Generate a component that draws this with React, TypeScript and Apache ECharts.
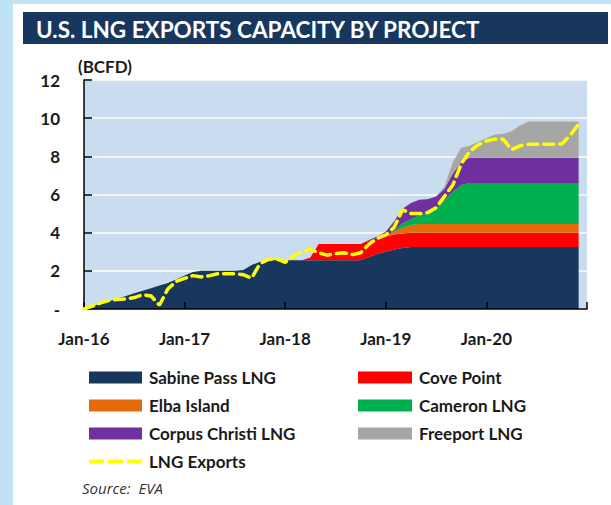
import React, { useEffect, useRef } from "react";
import * as echarts from "echarts";

const yearSuffixes = ["16", "17", "18", "19", "20", "21"];
const monthNames = ["Jan", "Feb", "Mar", "Apr", "May", "Jun", "Jul", "Aug", "Sep", "Oct", "Nov", "Dec"];
const categories: string[] = [];
for (const y of yearSuffixes) for (const m of monthNames) categories.push(`${m}-${y}`);
categories.length = 61; // Jan-16 .. Jan-21

const yTicks = [0, 2, 4, 6, 8, 10, 12];

// Monthly capacity, BCFD (Jan-16 .. Dec-20)
const sabinePass = [
  0, 0.14, 0.27, 0.41, 0.55, 0.68, 0.82, 0.95, 1.09, 1.23,
  1.36, 1.55, 1.75, 1.94, 2.0, 2.0, 2.0, 2.0, 2.0, 2.05,
  2.3, 2.48, 2.55, 2.55, 2.55, 2.55, 2.55, 2.55, 2.55, 2.55,
  2.55, 2.55, 2.55, 2.55, 2.72, 2.88, 3.0, 3.12, 3.2, 3.25,
  3.25, 3.25, 3.25, 3.25, 3.25, 3.25, 3.25, 3.25, 3.25, 3.25,
  3.25, 3.25, 3.25, 3.25, 3.25, 3.25, 3.25, 3.25, 3.25, 3.25,
];
const covePoint = [
  0, 0, 0, 0, 0, 0, 0, 0, 0, 0,
  0, 0, 0, 0, 0, 0, 0, 0, 0, 0,
  0, 0, 0, 0, 0, 0, 0, 0.15, 0.86, 0.86,
  0.86, 0.86, 0.86, 0.86, 0.85, 0.82, 0.8, 0.78, 0.76, 0.75,
  0.75, 0.75, 0.75, 0.75, 0.75, 0.75, 0.75, 0.75, 0.75, 0.75,
  0.75, 0.75, 0.75, 0.75, 0.75, 0.75, 0.75, 0.75, 0.75, 0.75,
];
const elbaIsland = [
  0, 0, 0, 0, 0, 0, 0, 0, 0, 0,
  0, 0, 0, 0, 0, 0, 0, 0, 0, 0,
  0, 0, 0, 0, 0, 0, 0, 0, 0, 0,
  0, 0, 0, 0, 0, 0, 0, 0.15, 0.3, 0.4,
  0.45, 0.45, 0.45, 0.45, 0.45, 0.45, 0.45, 0.45, 0.45, 0.45,
  0.45, 0.45, 0.45, 0.45, 0.45, 0.45, 0.45, 0.45, 0.45, 0.45,
];
const cameron = [
  0, 0, 0, 0, 0, 0, 0, 0, 0, 0,
  0, 0, 0, 0, 0, 0, 0, 0, 0, 0,
  0, 0, 0, 0, 0, 0, 0, 0, 0, 0,
  0, 0, 0, 0, 0, 0, 0, 0.05, 0.24, 0.3,
  0.45, 0.6, 0.8, 1.25, 1.7, 2.05, 2.15, 2.15, 2.15, 2.15,
  2.15, 2.15, 2.15, 2.15, 2.15, 2.15, 2.15, 2.15, 2.15, 2.15,
];
const corpusChristi = [
  0, 0, 0, 0, 0, 0, 0, 0, 0, 0,
  0, 0, 0, 0, 0, 0, 0, 0, 0, 0,
  0, 0, 0, 0, 0, 0, 0, 0, 0, 0,
  0, 0, 0, 0, 0.05, 0.1, 0.25, 0.5, 0.75, 0.85,
  0.82, 0.7, 0.65, 0.6, 0.95, 1.2, 1.33, 1.33, 1.33, 1.33,
  1.33, 1.33, 1.33, 1.33, 1.33, 1.33, 1.33, 1.33, 1.33, 1.33,
];
const freeport = [
  0, 0, 0, 0, 0, 0, 0, 0, 0, 0,
  0, 0, 0, 0, 0, 0, 0, 0, 0, 0,
  0, 0, 0, 0, 0, 0, 0, 0, 0, 0,
  0, 0, 0, 0, 0, 0, 0, 0, 0, 0,
  0, 0, 0, 0.1, 0.6, 0.75, 0.62, 0.82, 1.02, 1.22,
  1.24, 1.39, 1.69, 1.9, 1.9, 1.9, 1.9, 1.9, 1.9, 1.9,
];
const lngExports = [
  0, 0.15, 0.32, 0.45, 0.5, 0.53, 0.6, 0.75, 0.68, 0.2,
  1.05, 1.45, 1.6, 1.75, 1.68, 1.75, 1.85, 1.85, 1.85, 1.8,
  1.62, 2.38, 2.6, 2.62, 2.45, 2.78, 3.0, 3.12, 2.95, 2.82,
  2.9, 2.95, 2.85, 2.95, 3.4, 3.7, 3.88, 4.28, 5.2, 5.0,
  5.0, 5.05, 5.3, 5.9, 6.5, 7.6, 8.25, 8.6, 8.8, 8.9,
  8.9, 8.35, 8.55, 8.63, 8.63, 8.63, 8.63, 8.65, 9.1, 9.7,
];

const FONT = "Lato, 'Open Sans', sans-serif";
const NAVY = "#17375e";

const area = (name: string, data: number[], color: string) => ({
  name,
  type: "line",
  stack: "capacity",
  data,
  symbol: "none",
  lineStyle: { width: 0 },
  itemStyle: { color },
  areaStyle: { color, opacity: 1 },
  emphasis: { disabled: true },
  z: 2,
});

const legendText = {
  fontFamily: FONT,
  fontWeight: "bold" as const,
  fontSize: 17,
  color: "#1a1a1a",
  padding: [0, 0, 0, 2],
};

export default function App() {
  const ref = useRef<HTMLDivElement>(null);

  useEffect(() => {
    document.body.style.margin = "0";
    if (!ref.current) return;
    const chart = echarts.init(ref.current, undefined, { renderer: "svg" });
    chart.setOption({
      animation: false,
      backgroundColor: "transparent",
      grid: {
        left: 84,
        top: 80,
        width: 503,
        height: 229,
        show: true,
        backgroundColor: "#c9dcf0",
        borderWidth: 0,
      },
      xAxis: {
        type: "category",
        data: categories,
        boundaryGap: false,
        z: 4,
        axisLine: { show: true, lineStyle: { color: "#000", width: 1.5 } },
        axisTick: {
          show: true,
          inside: true,
          length: 7,
          interval: (i: number) => i % 12 === 0,
          lineStyle: { color: "#000", width: 1.5 },
        },
        axisLabel: {
          interval: (i: number) => i % 12 === 0 && i < 60,
          fontFamily: FONT,
          fontWeight: "bold",
          fontSize: 17,
          color: "#1a1a1a",
          margin: 21,
        },
        splitLine: { show: false },
      },
      yAxis: {
        type: "value",
        min: yTicks[0],
        max: yTicks[yTicks.length - 1],
        interval: 2,
        axisLine: { show: true, lineStyle: { color: "#000", width: 1.5 } },
        axisTick: { show: true, inside: true, length: 8, lineStyle: { color: "#000", width: 1.5 } },
        axisLabel: {
          fontFamily: FONT,
          fontWeight: "bold",
          fontSize: 17,
          color: "#1a1a1a",
          margin: 24,
          formatter: (v: number) => (v === 0 ? "-" : String(v)),
        },
        splitLine: { show: true, lineStyle: { color: "#ffffff", width: 1.5 } },
      },
      legend: [
        {
          data: [
            { name: "Sabine Pass LNG", icon: "rect" },
            { name: "Elba Island", icon: "rect" },
            { name: "Corpus Christi LNG", icon: "rect" },
            {
              name: "LNG Exports",
              icon: "path://M0 0h15v4H0z M19 0h15v4H19z M38 0h15v4H38z",
              itemStyle: { color: "#ffff00" },
            },
          ],
          left: 84,
          top: 364,
          orient: "vertical",
          itemWidth: 53,
          itemHeight: 12,
          itemGap: 11,
          selectedMode: false,
          textStyle: legendText,
        },
        {
          data: [
            { name: "Cove Point", icon: "rect" },
            { name: "Cameron LNG", icon: "rect" },
            { name: "Freeport LNG", icon: "rect" },
          ],
          left: 353,
          top: 364,
          orient: "vertical",
          itemWidth: 54,
          itemHeight: 12,
          itemGap: 11,
          selectedMode: false,
          textStyle: legendText,
        },
      ],
      graphic: [
        {
          type: "rect",
          shape: { x: 23, y: 12, width: 585, height: 32 },
          style: { fill: NAVY },
        },
        {
          type: "text",
          x: 36,
          y: 29,
          style: {
            text: "U.S. LNG EXPORTS CAPACITY BY PROJECT",
            fill: "#ffffff",
            fontFamily: FONT,
            fontWeight: "bold",
            fontSize: 22.5,
            verticalAlign: "middle",
          },
        },
        {
          type: "text",
          x: 78,
          y: 66,
          style: {
            text: "(BCFD)",
            fill: "#1a1a1a",
            fontFamily: FONT,
            fontWeight: "bold",
            fontSize: 17,
            verticalAlign: "middle",
          },
        },
        {
          type: "text",
          x: 82,
          y: 488,
          style: {
            text: "Source:  EVA",
            fill: "#333333",
            fontFamily: "'Open Sans', sans-serif",
            fontStyle: "italic",
            fontSize: 15,
            verticalAlign: "middle",
          },
        },
      ],
      series: [
        area("Sabine Pass LNG", sabinePass, NAVY),
        area("Cove Point", covePoint, "#ff0000"),
        area("Elba Island", elbaIsland, "#e36c09"),
        area("Cameron LNG", cameron, "#00b050"),
        area("Corpus Christi LNG", corpusChristi, "#7030a0"),
        area("Freeport LNG", freeport, "#a6a6a6"),
        {
          name: "LNG Exports",
          type: "line",
          data: lngExports,
          symbol: "none",
          itemStyle: { color: "#ffff00" },
          lineStyle: { color: "#ffff00", width: 3.5, type: [10, 6], cap: "round" },
          emphasis: { disabled: true },
          z: 5,
        },
      ],
    });
    return () => chart.dispose();
  }, []);

  return (
    <div style={{ position: "relative", width: 611, height: 505, background: "#bfe3f4", overflow: "hidden" }}>
      <div style={{ position: "absolute", left: 13, top: 4, width: 598, height: 501, background: "#ffffff" }} />
      <div ref={ref} style={{ position: "absolute", left: 0, top: 0, width: 611, height: 505 }} />
    </div>
  );
}
